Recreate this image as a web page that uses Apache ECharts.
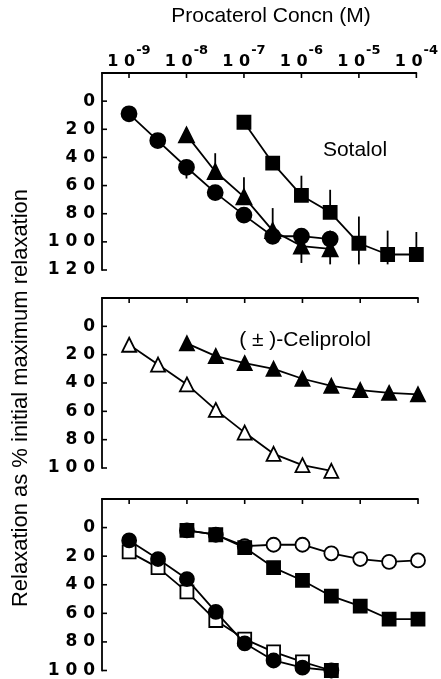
<!DOCTYPE html>
<html>
<head>
<meta charset="utf-8">
<script src="https://cdn.jsdelivr.net/npm/echarts@6/dist/echarts.min.js"></script>
<style>
  html, body { margin: 0; padding: 0; background: #fff; }
  #chart { width: 441px; height: 679px; }
</style>
</head>
<body>
<div id="chart"></div>
<script>
// x values are log10 of procaterol concentration (M)
const decades = [-9, -8, -7, -6, -5, -4];
const yTicksTop = [0, 20, 40, 60, 80, 100, 120];
const yTicks = [0, 20, 40, 60, 80, 100];

// Sotalol panel
const sotCircles = [[-9, 9], [-8.5, 28], [-8, 47], [-7.5, 65], [-7, 81], [-6.5, 96], [-6, 96], [-5.5, 98]];
const sotTriangles = [[-8, 24], [-7.5, 50], [-7, 68], [-6.5, 92], [-6, 103], [-5.5, 105]];
const sotSquares = [[-7, 15], [-6.5, 44], [-6, 67], [-5.5, 79], [-5, 101], [-4.5, 109], [-4, 109]];
// error bars: [x, from, to]
const sotErrors = [
  [-8, 47, 55],
  [-7.5, 37, 50], [-7, 54, 68], [-6.5, 76, 96], [-6, 92, 115], [-5.5, 92, 116],
  [-6, 53, 67], [-5.5, 63, 79], [-5, 82, 116], [-4.5, 92, 116], [-4, 93, 109]
];

// Celiprolol panel
const celOpenTri = [[-9, 13], [-8.5, 27], [-8, 41], [-7.5, 59], [-7, 75], [-6.5, 90], [-6, 98], [-5.5, 102]];
const celFilledTri = [[-8, 12], [-7.5, 21], [-7, 26], [-6.5, 30], [-6, 37], [-5.5, 42], [-5, 45], [-4.5, 47], [-4, 48]];

// bottom panel
const botFilledCirc = [[-9, 9], [-8.5, 22], [-8, 36], [-7.5, 59], [-7, 81], [-6.5, 93], [-6, 98], [-5.5, 100]];
const botOpenSq = [[-9, 17], [-8.5, 28], [-8, 45], [-7.5, 65], [-7, 78], [-6.5, 87], [-6, 94], [-5.5, 100]];
const botOpenCirc = [[-8, 2], [-7.5, 5], [-7, 13], [-6.5, 12], [-6, 12], [-5.5, 18], [-5, 22], [-4.5, 24], [-4, 23]];
const botFilledSq = [[-8, 2], [-7.5, 5], [-7, 14], [-6.5, 28], [-6, 37], [-5.5, 48], [-5, 55], [-4.5, 64], [-4, 64]];

const chart = echarts.init(document.getElementById('chart'));

const black = '#000';
const X_MIN = -9.47;
const Y_MIN = -20;
const LW = 1.8;
const grids = [
  { left: 102, width: 316, top: 73, height: 197 },
  { left: 102, width: 316, top: 298, height: 170 },
  { left: 102, width: 316, top: 499, height: 173 }
];

function xAxis(i) {
  return {
    type: 'value', gridIndex: i, min: X_MIN, max: -4, position: 'top',
    axisLine: { show: true, onZero: false, lineStyle: { color: black, width: LW } },
    axisTick: { show: false },
    axisLabel: {
      show: i === 0, customValues: decades, margin: 3, color: black,
      formatter: v => '{b|1 0}{s|-' + Math.abs(v) + '}',
      rich: {
        b: { fontFamily: 'DejaVu Sans', fontWeight: 'bold', fontSize: 16, lineHeight: 26, verticalAlign: 'bottom', color: black },
        s: { fontFamily: 'DejaVu Sans', fontWeight: 'bold', fontSize: 13, lineHeight: 26, verticalAlign: 'top', color: black, padding: [0, 0, 0, 1] }
      }
    },
    splitLine: { show: false }
  };
}

function yAxis(i, max) {
  return {
    type: 'value', gridIndex: i, inverse: true, min: Y_MIN, max: max, interval: 20,
    axisLine: { show: true, onZero: false, lineStyle: { color: black, width: LW } },
    axisTick: { show: false },
    axisLabel: {
      margin: 7, color: black,
      fontFamily: 'DejaVu Sans', fontWeight: 'bold', fontSize: 17,
      formatter: v => v < 0 ? '' : String(v).split('').join(' ')
    },
    splitLine: { show: false }
  };
}

// short inward ticks: downward on the top line at every decade
function xTicks(i) {
  return {
    type: 'custom', xAxisIndex: i, yAxisIndex: i, data: decades.map(v => [v]), z: 5, clip: false,
    encode: { x: 0 },
    renderItem: (params, api) => {
      const p = api.coord([api.value(0), Y_MIN]);
      return { type: 'line', shape: { x1: p[0], y1: p[1], x2: p[0], y2: p[1] + 5 }, style: { stroke: black, lineWidth: 1.6 } };
    }
  };
}

// rightward on the left line at every labelled value
function yTicksSeries(i, ticks) {
  return {
    type: 'custom', xAxisIndex: i, yAxisIndex: i, data: ticks.map(v => [v]), z: 5, clip: false,
    encode: { y: 0 },
    renderItem: (params, api) => {
      const p = api.coord([X_MIN, api.value(0)]);
      return { type: 'line', shape: { x1: p[0], y1: p[1], x2: p[0] + 5, y2: p[1] }, style: { stroke: black, lineWidth: 1.6 } };
    }
  };
}

function line(i, data, symbol, size, filled, z) {
  return {
    type: 'line', xAxisIndex: i, yAxisIndex: i, data: data, clip: false,
    symbol: symbol, symbolSize: size, showSymbol: true, z: z || 2,
    lineStyle: { color: black, width: LW },
    itemStyle: { color: filled ? black : '#fff', borderColor: black, borderWidth: LW },
    emphasis: { disabled: true }, animation: false
  };
}

const errorBars = {
  type: 'custom', xAxisIndex: 0, yAxisIndex: 0, data: sotErrors, z: 1, clip: false,
  encode: { x: 0, y: [1, 2] },
  renderItem: (params, api) => {
    const x = api.value(0);
    const a = api.coord([x, api.value(1)]);
    const b = api.coord([x, api.value(2)]);
    return { type: 'line', shape: { x1: a[0], y1: a[1], x2: b[0], y2: b[1] }, style: { stroke: black, lineWidth: LW } };
  }
};

// last point of the open-square curve is drawn solid in the figure
const openSqData = botOpenSq.map((p, k) => k === botOpenSq.length - 1 ? { value: p, itemStyle: { color: black } } : p);

chart.setOption({
  animation: false,
  grid: grids,
  xAxis: [xAxis(0), xAxis(1), xAxis(2)],
  yAxis: [yAxis(0, 120), yAxis(1, 100), yAxis(2, 100)],
  series: [
    xTicks(0), xTicks(1), xTicks(2),
    yTicksSeries(0, yTicksTop), yTicksSeries(1, yTicks), yTicksSeries(2, yTicks),
    errorBars,
    line(0, sotCircles, 'circle', 15, true, 3),
    line(0, sotTriangles, 'triangle', 15, true, 3),
    line(0, sotSquares, 'rect', 13, true, 3),
    line(1, celOpenTri, 'triangle', 14, false),
    line(1, celFilledTri, 'triangle', 14, true),
    line(2, botOpenCirc, 'circle', 14, false, 2),
    line(2, botFilledSq, 'rect', 13, true, 3),
    line(2, openSqData, 'rect', 13, false, 2),
    line(2, botFilledCirc, 'circle', 14, true, 3)
  ],
  graphic: [
    { type: 'text', x: 271, y: 16, style: { text: 'Procaterol Concn (M)', fontFamily: 'Liberation Sans', fontSize: 21, fill: black, align: 'center', verticalAlign: 'middle' } },
    { type: 'text', x: 21, y: 398, rotation: Math.PI / 2, style: { text: 'Relaxation as % initial maximum relaxation', fontFamily: 'Liberation Sans', fontSize: 22, fill: black, align: 'center', verticalAlign: 'middle' } },
    { type: 'text', x: 355, y: 150, style: { text: 'Sotalol', fontFamily: 'Liberation Sans', fontSize: 21, fill: black, align: 'center', verticalAlign: 'middle' } },
    { type: 'text', x: 305, y: 340, style: { text: '( ± )-Celiprolol', fontFamily: 'Liberation Sans', fontSize: 21, fill: black, align: 'center', verticalAlign: 'middle' } }
  ]
});
</script>
</body>
</html>
